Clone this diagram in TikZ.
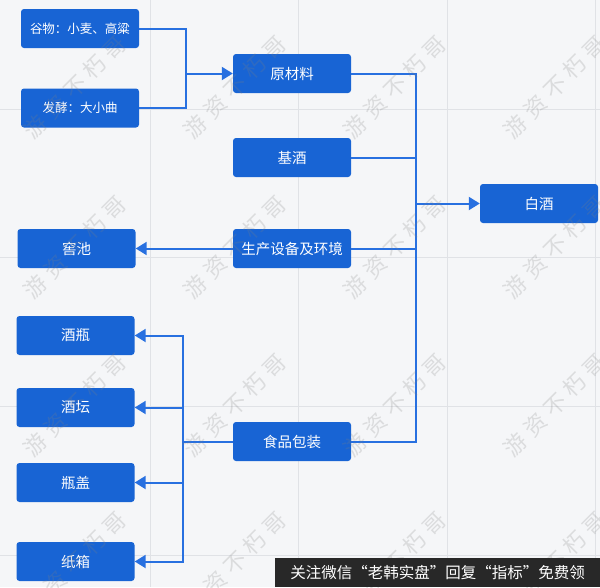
\documentclass[tikz,border=0pt]{standalone}
\usepackage{fontspec}
\newfontfamily\cjk{Noto Sans CJK SC}
\usetikzlibrary{arrows.meta}
\definecolor{boxblue}{RGB}{24,100,212}
\definecolor{lineblue}{RGB}{40,112,224}
\definecolor{bg}{RGB}{245,246,248}
\definecolor{gridc}{RGB}{224,226,230}
\definecolor{capbg}{RGB}{40,40,40}
\tikzset{
  box/.style={draw=none, fill=boxblue, rounded corners=3pt, minimum width=118pt, minimum height=39pt, inner sep=0pt, text=white, font=\cjk\fontsize{14.5}{16}\selectfont},
  smallbox/.style={box, font=\cjk\fontsize{12.5}{14}\selectfont},
  conn/.style={draw=lineblue, line width=2pt},
  arr/.style={conn, -{Triangle[length=11pt,width=13pt]}},
  wm/.style={rotate=45, text=gray, opacity=0.22, font=\cjk\fontsize{22}{24}\selectfont},
}
\newcommand{\wmtext}{游\hspace{6pt}资\hspace{6pt}不\hspace{6pt}朽\hspace{6pt}哥}
\begin{document}
\begin{tikzpicture}[x=1pt,y=-1pt]
\fill[bg] (0,0) rectangle (600,587);
\useasboundingbox (0,0) rectangle (600,587);
\foreach \gx in {150,298,447,595} \draw[gridc, line width=0.8pt] (\gx,0) -- (\gx,587);
\foreach \gy in {109,257,406,555} \draw[gridc, line width=0.8pt] (0,\gy) -- (600,\gy);

\node[smallbox] (grain) at (80,28.5) {谷物：小麦、高粱};
\node[smallbox] (ferment) at (80,108) {发酵：大小曲};
\node[box] (raw) at (292,73.5) {原材料};
\node[box] (base) at (292,157.5) {基酒};
\node[box] (equip) at (292,248.5) {生产设备及环境};
\node[box] (pit) at (76.5,248.5) {窖池};
\node[box] (baijiu) at (539,203.5) {白酒};
\node[box] (pack) at (292,441.5) {食品包装};
\node[box] (bottle) at (75.5,335.5) {酒瓶};
\node[box] (jar) at (75.5,407.5) {酒坛};
\node[box] (cap) at (75.5,482.5) {瓶盖};
\node[box] (carton) at (75.5,561.5) {纸箱};

\coordinate (j1) at (186,73.5);
\coordinate (j2) at (416,203.5);
\coordinate (j3) at (183,441.5);

\draw[conn] (grain.east) -| (j1);
\draw[conn] (ferment.east) -| (j1);
\draw[arr] (j1) -- (raw.west);

\draw[conn] (raw.east) -| (j2);
\draw[conn] (base.east) -| (j2);
\draw[conn] (equip.east) -| (j2);
\draw[conn] (pack.east) -| (j2);
\draw[arr] (j2) -- (baijiu.west);

\draw[arr] (equip.west) -- (pit.east);

\draw[conn] (pack.west) -- (j3);
\draw[arr] (j3) |- (bottle.east);
\draw[arr] (j3) |- (jar.east);
\draw[arr] (j3) |- (cap.east);
\draw[arr] (j3) |- (carton.east);

\foreach \wx in {75,235,395,555}
  \foreach \wy in {87,247,405,563}
    \node[wm] (w\wx\wy) at (\wx,\wy) {\wmtext};

\fill[capbg] (275,558) rectangle (600,587);
\node[text=white, font=\cjk\fontsize{15.5}{17}\selectfont, anchor=center] (cap2) at (437.5,572.5) {关注微信“老韩实盘”回复“指标”免费领};
\end{tikzpicture}
\end{document}
